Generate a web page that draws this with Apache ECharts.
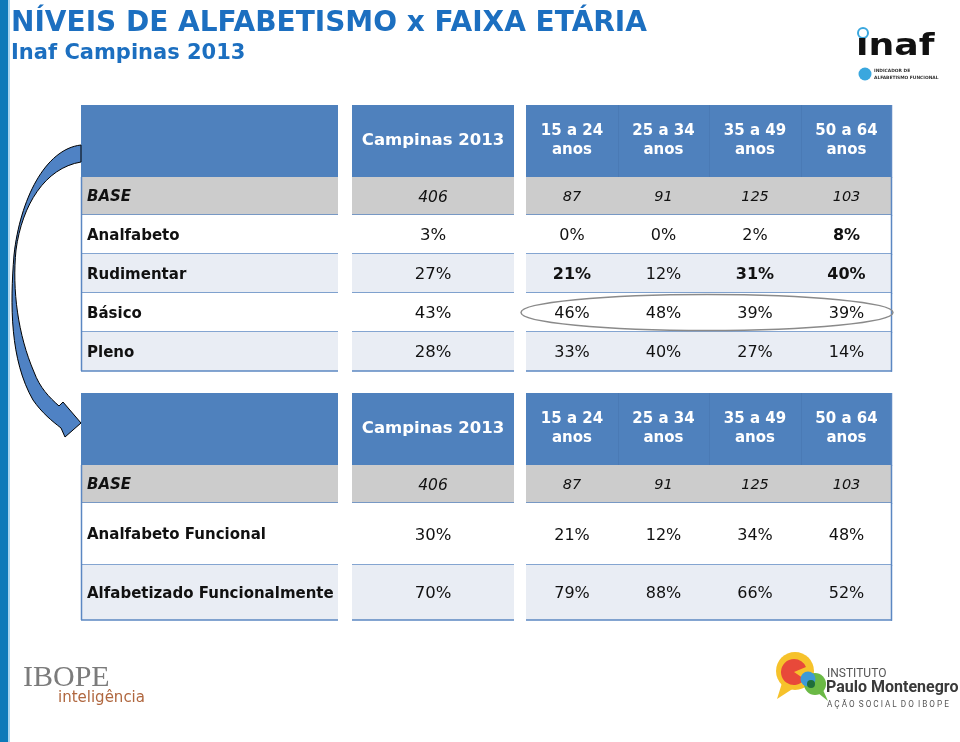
<!DOCTYPE html>
<html><head><meta charset="utf-8">
<script src="https://cdn.jsdelivr.net/npm/echarts@6/dist/echarts.min.js"></script>
<style>html,body{margin:0;padding:0;background:#fff}#main{width:960px;height:742px}</style>
</head><body><div id="main"></div>
<script>
// ---------------- DATA ----------------
const titleText = 'NÍVEIS DE ALFABETISMO x FAIXA ETÁRIA';
const subtitleText = 'Inaf Campinas 2013';
const totalLabel = 'Campinas 2013';
const ageGroups = ['15 a 24\nanos', '25 a 34\nanos', '35 a 49\nanos', '50 a 64\nanos'];
const baseLabel = 'BASE';
const baseTotal = 406;
const baseByAge = [87, 91, 125, 103];

const levels = ['Analfabeto', 'Rudimentar', 'Básico', 'Pleno'];
const levelsTotal = [3, 27, 43, 28];
const analfabetoByAge = [0, 0, 2, 8];
const rudimentarByAge = [21, 12, 31, 40];
const basicoByAge = [46, 48, 39, 39];
const plenoByAge = [33, 40, 27, 14];

const functionalGroups = ['Analfabeto Funcional', 'Alfabetizado Funcionalmente'];
const functionalTotal = [30, 70];
const analfabetoFuncionalByAge = [21, 12, 34, 48];
const alfabetizadoFuncionalByAge = [79, 88, 66, 52];

// emphasis (style only)
const boldAgeCells = { 'Analfabeto': [3], 'Rudimentar': [0, 2, 3] };
const highlightedLevel = 'Básico';

// ---------------- LAYOUT ----------------
const FONT = 'DejaVu Sans';
const COLS = [[0, 257], [271, 433], [445, 536.5], [536.5, 628], [628, 719.5], [719.5, 811]];
const T1_ROWS = [0, 72, 110, 149, 188, 227, 266];
const T2_ROWS = [0, 72, 110, 172, 227];
const C_HEADER = '#4f81bd', C_BASE = '#cccccc', C_LIGHT = '#e9edf4', C_LINE = '#5b87c2';
const ARROW_PATH = 'M81,145 C45,149 20,200 14,255 C10,305 10,360 33,400 C42,413 52,421 61,428 L65,437 L81,423 L63,402 L59,406 C49,397 40,388 34,372 C18,335 12,290 16,250 C22,205 45,168 81,162 Z';

function buildCells(rowLabels, totals, byAgeRows, boldMap) {
  const cells = [];
  cells.push({ col: 0, row: 0, text: '', kind: 'header' });
  cells.push({ col: 1, row: 0, text: totalLabel, kind: 'header' });
  ageGroups.forEach((g, i) => cells.push({ col: 2 + i, row: 0, text: g, kind: 'header' }));
  cells.push({ col: 0, row: 1, text: baseLabel, kind: 'baseLabel' });
  cells.push({ col: 1, row: 1, text: String(baseTotal), kind: 'baseTotal' });
  baseByAge.forEach((v, i) => cells.push({ col: 2 + i, row: 1, text: String(v), kind: 'baseAge' }));
  rowLabels.forEach((lab, r) => {
    cells.push({ col: 0, row: 2 + r, text: lab, kind: 'label' });
    cells.push({ col: 1, row: 2 + r, text: totals[r] + '%', kind: 'total' });
    byAgeRows[r].forEach((v, i) => cells.push({
      col: 2 + i, row: 2 + r, text: v + '%', kind: 'age',
      bold: (boldMap[lab] || []).indexOf(i) >= 0
    }));
  });
  return cells;
}

const cells1 = buildCells(levels, levelsTotal,
  [analfabetoByAge, rudimentarByAge, basicoByAge, plenoByAge], boldAgeCells);
const cells2 = buildCells(functionalGroups, functionalTotal,
  [analfabetoFuncionalByAge, alfabetizadoFuncionalByAge], {});

function fontFor(c) {
  switch (c.kind) {
    case 'header': return c.col === 1 ? 'bold 16.5px ' + FONT : 'bold 15px ' + FONT;
    case 'baseLabel': return 'italic bold 15px ' + FONT;
    case 'baseTotal': return 'italic 15.5px ' + FONT;
    case 'baseAge': return 'italic 14.5px ' + FONT;
    case 'label': return 'bold 15px ' + FONT;
    case 'total': return '16.5px ' + FONT;
    default: return (c.bold ? 'bold ' : '') + '16px ' + FONT;
  }
}

function makeRender(cells, rows) {
  return function (params, api) {
    const c = cells[params.dataIndex];
    const a = api.coord([COLS[c.col][0], rows[c.row]]);
    const b = api.coord([COLS[c.col][1], rows[c.row + 1]]);
    const p0 = [Math.round(a[0]), Math.round(a[1])], p1 = [Math.round(b[0]), Math.round(b[1])];
    const w = p1[0] - p0[0], h = p1[1] - p0[1];
    let fill;
    if (c.kind === 'header') fill = C_HEADER;
    else if (c.row === 1) fill = C_BASE;
    else fill = (c.row % 2 === 0) ? '#ffffff' : C_LIGHT;
    const ch = [{ type: 'rect', shape: { x: p0[0], y: p0[1], width: w, height: h }, style: { fill: fill } }];
    if (c.kind !== 'header') {
      ch.push({ type: 'line', shape: { x1: p0[0], y1: p1[1], x2: p1[0], y2: p1[1] }, style: { stroke: C_LINE, lineWidth: 1.5 } });
    }
    if (c.col === 0 && c.kind !== 'header') {
      ch.push({ type: 'line', shape: { x1: p0[0] + 0.5, y1: p0[1], x2: p0[0] + 0.5, y2: p1[1] }, style: { stroke: C_LINE, lineWidth: 1.5 } });
    }
    if (c.col === 5) {
      ch.push({ type: 'line', shape: { x1: p1[0] - 0.5, y1: p0[1], x2: p1[0] - 0.5, y2: p1[1] + 0.75 }, style: { stroke: C_LINE, lineWidth: 1.5 } });
    }
    if (c.kind === 'header' && c.col >= 3) {
      ch.push({ type: 'line', shape: { x1: p0[0] + 0.5, y1: p0[1], x2: p0[0] + 0.5, y2: p1[1] }, style: { stroke: '#4a7ab5', lineWidth: 1 } });
    }
    if (c.text) {
      const left = c.col === 0;
      ch.push({
        type: 'text',
        x: left ? p0[0] + 6 : p0[0] + w / 2,
        y: p0[1] + h / 2 + (c.kind === 'header' ? 0 : 1.5),
        style: {
          text: c.text, font: fontFor(c),
          fill: c.kind === 'header' ? '#ffffff' : '#111111',
          align: left ? 'left' : 'center', verticalAlign: 'middle',
          lineHeight: 19
        }
      });
    }
    return { type: 'group', children: ch };
  };
}

const hlRow = levels.indexOf(highlightedLevel) + 2;

const option = {
  animation: false,
  backgroundColor: '#ffffff',
  title: {
    text: titleText, subtext: subtitleText, left: 6, top: 5, itemGap: 5,
    textStyle: { fontFamily: FONT, fontSize: 28, fontWeight: 'bold', color: '#1c6fc0' },
    subtextStyle: { fontFamily: FONT, fontSize: 21, fontWeight: 'bold', color: '#1c6fc0' }
  },
  grid: [
    { left: 81, top: 105, width: 811, height: 266 },
    { left: 81, top: 393, width: 811, height: 227 }
  ],
  xAxis: [
    { type: 'value', gridIndex: 0, min: 0, max: 811, show: false },
    { type: 'value', gridIndex: 1, min: 0, max: 811, show: false }
  ],
  yAxis: [
    { type: 'value', gridIndex: 0, min: 0, max: 266, inverse: true, show: false },
    { type: 'value', gridIndex: 1, min: 0, max: 227, inverse: true, show: false }
  ],
  series: [
    { type: 'custom', xAxisIndex: 0, yAxisIndex: 0, clip: false, silent: true,
      data: cells1.map(c => [c.col, c.row]), renderItem: makeRender(cells1, T1_ROWS) },
    { type: 'custom', xAxisIndex: 1, yAxisIndex: 1, clip: false, silent: true,
      data: cells2.map(c => [c.col, c.row]), renderItem: makeRender(cells2, T2_ROWS) },
    { type: 'custom', xAxisIndex: 0, yAxisIndex: 0, clip: false, silent: true, z: 5,
      data: [[2, hlRow]],
      renderItem: function (params, api) {
        const p0 = api.coord([COLS[2][0], T1_ROWS[hlRow]]);
        const p1 = api.coord([COLS[5][1], T1_ROWS[hlRow + 1]]);
        return { type: 'ellipse',
          shape: { cx: (p0[0] + p1[0]) / 2 - 2, cy: (p0[1] + p1[1]) / 2, rx: (p1[0] - p0[0]) / 2 + 3, ry: (p1[1] - p0[1]) / 2 - 1.5 },
          style: { fill: 'none', stroke: '#8a8a8a', lineWidth: 1.5 } };
      }
    },
    { type: 'custom', xAxisIndex: 0, yAxisIndex: 0, clip: false, silent: true, z: 10,
      data: [[0, 0]],
      renderItem: function () {
        return { type: 'path', shape: { pathData: ARROW_PATH },
          style: { fill: '#4f82c4', stroke: '#000000', lineWidth: 1 } };
      }
    }
  ],
  graphic: [
    // left bar
    { type: 'rect', shape: { x: 0, y: 0, width: 8, height: 742 }, style: { fill: '#0d7ab9' } },
    { type: 'rect', shape: { x: 8, y: 0, width: 2, height: 742 }, style: { fill: '#a9d5ef' } },
    // inaf logo
    { type: 'circle', shape: { cx: 863, cy: 33, r: 5 }, style: { fill: '#fff', stroke: '#3aa7de', lineWidth: 2 } },
    { type: 'text', x: 856, y: 47, scaleX: 1.17, style: { text: 'ınaf', font: 'bold 31px ' + FONT, fill: '#111', align: 'left', verticalAlign: 'middle' } },
    { type: 'circle', shape: { cx: 865, cy: 74, r: 6.5 }, style: { fill: '#3aa7de' } },
    { type: 'text', x: 874, y: 71, style: { text: 'INDICADOR DE', font: 'bold 4.4px ' + FONT, fill: '#333', align: 'left', verticalAlign: 'middle' } },
    { type: 'text', x: 874, y: 78, style: { text: 'ALFABETISMO FUNCIONAL', font: 'bold 4.4px ' + FONT, fill: '#333', align: 'left', verticalAlign: 'middle' } },
    // IBOPE logo
    { type: 'text', x: 23, y: 678, style: { text: 'IBOPE', font: '30px Liberation Serif', fill: '#7b7b7b', align: 'left', verticalAlign: 'middle' } },
    { type: 'text', x: 58, y: 698, style: { text: 'inteligência', font: '15px ' + FONT, fill: '#b0673f', align: 'left', verticalAlign: 'middle' } },
    // Instituto Paulo Montenegro logo
    { type: 'circle', shape: { cx: 795, cy: 671, r: 19 }, style: { fill: '#f6c22b' } },
    { type: 'polygon', shape: { points: [[782, 683], [777, 699], [794, 688]] }, style: { fill: '#f6c22b' } },
    { type: 'sector', shape: { cx: 794, cy: 672, r0: 0, r: 13, startAngle: 0.6, endAngle: Math.PI * 2 - 0.4 }, style: { fill: '#e8493a' } },
    { type: 'circle', shape: { cx: 815, cy: 684, r: 11 }, style: { fill: '#6ab945' } },
    { type: 'polygon', shape: { points: [[818, 693], [828, 701], [823, 690]] }, style: { fill: '#6ab945' } },
    { type: 'circle', shape: { cx: 808, cy: 679, r: 7.5 }, style: { fill: '#3d9ad6' } },
    { type: 'circle', shape: { cx: 811, cy: 684, r: 4 }, style: { fill: '#1f6e3a' } },
    { type: 'text', x: 827, y: 674, style: { text: 'INSTITUTO', font: '12px Roboto', fill: '#555', align: 'left', verticalAlign: 'middle' } },
    { type: 'text', x: 826, y: 688, style: { text: 'Paulo Montenegro', font: 'bold 16px Roboto', fill: '#3a3a3a', align: 'left', verticalAlign: 'middle' } },
    { type: 'text', x: 827, y: 705, style: { text: 'A Ç Ã O  S O C I A L  D O  I B O P E', font: '8.2px Roboto', fill: '#555', align: 'left', verticalAlign: 'middle' } }
  ]
};

const chart = echarts.init(document.getElementById('main'), null, { renderer: 'canvas' });
chart.setOption(option);
</script></body></html>
